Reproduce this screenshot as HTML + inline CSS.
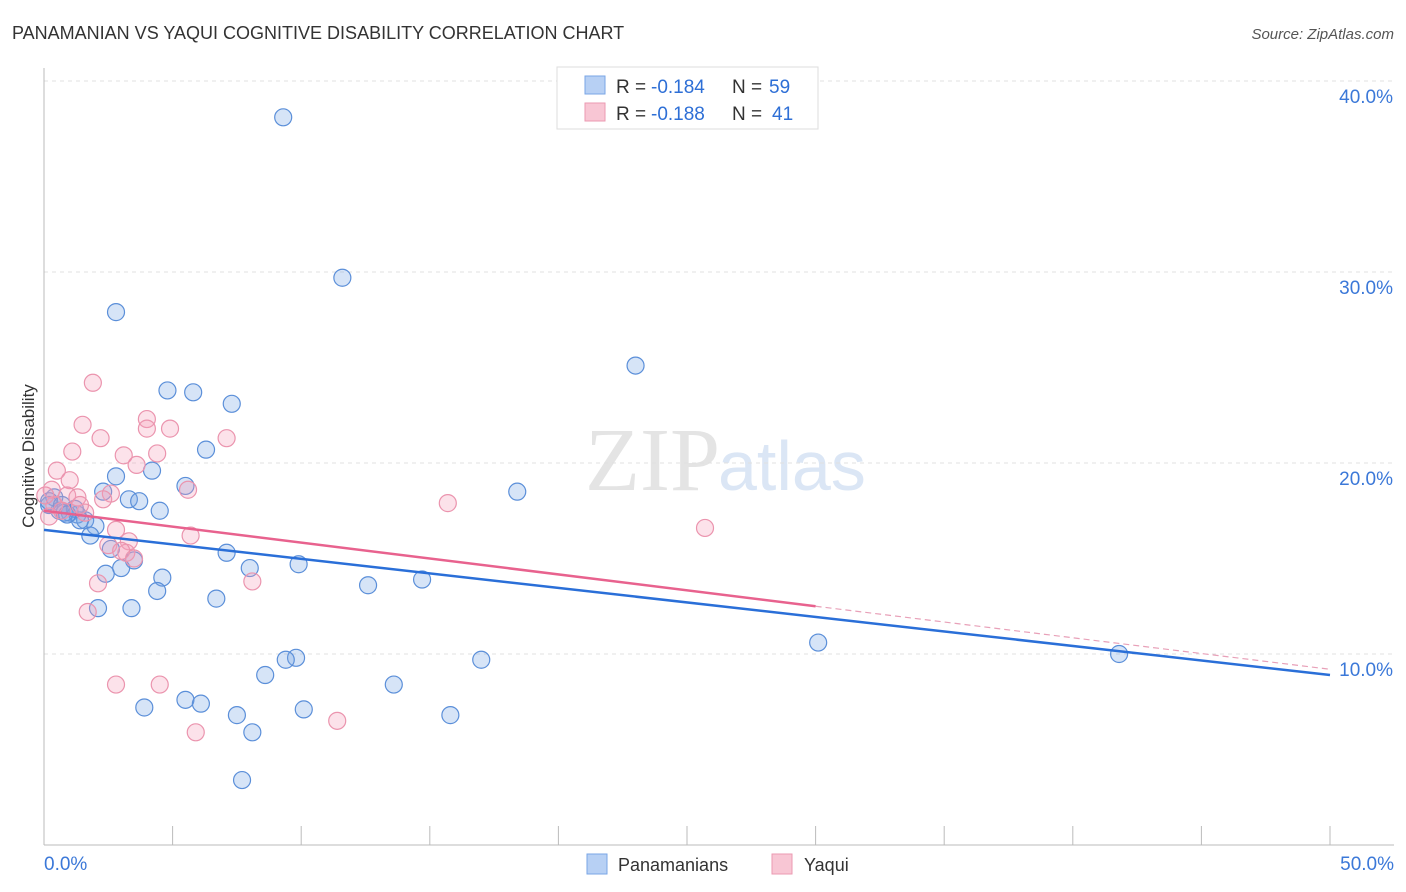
<!DOCTYPE html>
<html><head><meta charset="utf-8"><style>
body{margin:0;background:#fff;font-family:"Liberation Sans",sans-serif;}
</style></head><body>
<svg id="c" width="1406" height="892" style="display:block">
<text x="12" y="39" font-size="18" fill="#333">PANAMANIAN VS YAQUI COGNITIVE DISABILITY CORRELATION CHART</text>
<text x="1394" y="39" font-size="15" fill="#555" text-anchor="end" font-style="italic">Source: ZipAtlas.com</text>
<text x="720" y="490" font-size="90" fill="#e4e4e4" text-anchor="end" font-family="Liberation Serif">ZIP</text>
<text x="718" y="490" font-size="70" fill="#dbe6f5">atlas</text>
<text transform="translate(34,456) rotate(-90)" font-size="17" fill="#333" text-anchor="middle">Cognitive Disability</text>
<g id="grid"></g><g id="axes"></g><g id="pts"></g><g id="trend"></g>
<g>
<rect x="557" y="67" width="261" height="62" fill="#fff" stroke="#ddd"/>
<rect x="585" y="76" width="20" height="18" fill="#b7d0f4" stroke="#7aa6e6"/>
<rect x="585" y="103" width="20" height="18" fill="#f8c6d4" stroke="#eb9ab2"/>
<text x="616" y="93" font-size="19" fill="#333">R =</text>
<text x="651" y="93" font-size="19" fill="#2e6fd6">-0.184</text>
<text x="732" y="93" font-size="19" fill="#333">N =</text>
<text x="769" y="93" font-size="19" fill="#2e6fd6">59</text>
<text x="616" y="120" font-size="19" fill="#333">R =</text>
<text x="651" y="120" font-size="19" fill="#2e6fd6">-0.188</text>
<text x="732" y="120" font-size="19" fill="#333">N =</text>
<text x="772" y="120" font-size="19" fill="#2e6fd6">41</text>
</g>
<g>
<rect x="587" y="854" width="20" height="20" fill="#b7d0f4" stroke="#7aa6e6"/>
<text x="618" y="871" font-size="18" fill="#333">Panamanians</text>
<rect x="772" y="854" width="20" height="20" fill="#f8c6d4" stroke="#eb9ab2"/>
<text x="804" y="871" font-size="18" fill="#333">Yaqui</text>
</g>
</svg>
<script>
const xTicks=[0,5,10,15,20,25,30,35,40,45,50];
const yTicks=[10,20,30,40];
const blueX=[9.3,11.6,2.8,23.0,4.8,5.8,7.3,6.3,4.2,2.8,5.5,2.3,18.4,3.3,3.7,4.5,0.4,0.2,0.6,1.0,1.3,1.6,2.0,1.8,7.1,2.6,3.5,9.9,8.0,3.0,2.4,4.6,12.6,14.7,4.4,6.7,3.4,2.1,30.1,41.8,9.8,9.4,17.0,8.6,13.6,5.5,6.1,3.9,10.1,7.5,15.8,8.1,7.7,0.8,1.4,0.2,1.2,0.7,0.9];
const blueY=[38.1,29.7,27.9,25.1,23.8,23.7,23.1,20.7,19.6,19.3,18.8,18.5,18.5,18.1,18.0,17.5,18.2,17.8,17.5,17.4,17.3,17.0,16.7,16.2,15.3,15.5,14.9,14.7,14.5,14.5,14.2,14.0,13.6,13.9,13.3,12.9,12.4,12.4,10.6,10.0,9.8,9.7,9.7,8.9,8.4,7.6,7.4,7.2,7.1,6.8,6.8,5.9,3.4,17.4,17.0,18.0,17.6,17.8,17.3];
const pinkX=[1.9,1.5,4.0,4.9,4.0,2.2,7.1,1.1,3.1,4.4,3.6,0.5,1.0,2.6,5.6,2.3,15.7,0.9,1.3,0.2,1.6,25.7,2.8,5.7,2.5,3.3,3.2,3.0,3.5,2.1,8.1,1.7,2.8,4.5,11.4,5.9,0.4,0.7,1.4,0.3,0.05];
const pinkY=[24.2,22.0,22.3,21.8,21.8,21.3,21.3,20.6,20.4,20.5,19.9,19.6,19.1,18.4,18.6,18.1,17.9,18.3,18.2,17.2,17.4,16.6,16.5,16.2,15.7,15.9,15.3,15.4,15.0,13.7,13.8,12.2,8.4,8.4,6.5,5.9,17.8,17.5,17.8,18.6,18.3];
const blueTrend=[0,16.5,50,8.9];
const pinkTrend=[0,17.5,30,12.5,50,9.2];
const X=v=>44+v*25.72, Y=v=>845-v*19.1;
const NS='http://www.w3.org/2000/svg';
function mk(p,t,a){const e=document.createElementNS(NS,t);for(const k in a)e.setAttribute(k,a[k]);document.getElementById(p).appendChild(e);return e;}
yTicks.forEach(t=>{const l=mk('grid','line',{x1:44,x2:1394,y1:Y(t),y2:Y(t),stroke:'#e0e0e0','stroke-dasharray':'4,4'});


const s=mk('grid','text',{x:1393,y:Y(t)+22,'font-size':19,fill:'#3b78d8','text-anchor':'end'});s.textContent=t.toFixed(1)+'%';

});
const ax=mk('axes','line',{x1:44,x2:44,y1:68,y2:845,stroke:'#bbb'});


const bx=mk('axes','line',{x1:44,x2:1394,y1:845,y2:845,stroke:'#bbb'});


xTicks.forEach(t=>{const l=mk('axes','line',{x1:X(t),x2:X(t),y1:826,y2:845,stroke:'#bbb'});

});
[[0,'start',44],[50,'end',1394]].forEach(([t,a,x])=>{const s=mk('axes','text',{x:x,y:870,'font-size':19,fill:'#3b78d8','text-anchor':a});s.textContent=t.toFixed(1)+'%';

});
blueX.forEach((v,i)=>{const c=mk('pts','circle',{cx:X(v),cy:Y(blueY[i]),r:8.5,fill:'rgba(120,165,230,0.3)',stroke:'#5b8fd9','stroke-width':1.2});

});
pinkX.forEach((v,i)=>{const c=mk('pts','circle',{cx:X(v),cy:Y(pinkY[i]),r:8.5,fill:'rgba(244,160,185,0.3)',stroke:'#eb94ae','stroke-width':1.2});

});
const bt=mk('trend','line',{x1:X(blueTrend[0]),y1:Y(blueTrend[1]),x2:X(blueTrend[2]),y2:Y(blueTrend[3]),stroke:'#2a6fd8','stroke-width':2.5});


const pt=mk('trend','line',{x1:X(pinkTrend[0]),y1:Y(pinkTrend[1]),x2:X(pinkTrend[2]),y2:Y(pinkTrend[3]),stroke:'#e8628e','stroke-width':2.5});


const pd=mk('trend','line',{x1:X(pinkTrend[2]),y1:Y(pinkTrend[3]),x2:X(pinkTrend[4]),y2:Y(pinkTrend[5]),stroke:'#e8a0b8','stroke-width':1.2,'stroke-dasharray':'6,4'});


</script>
</body></html>
